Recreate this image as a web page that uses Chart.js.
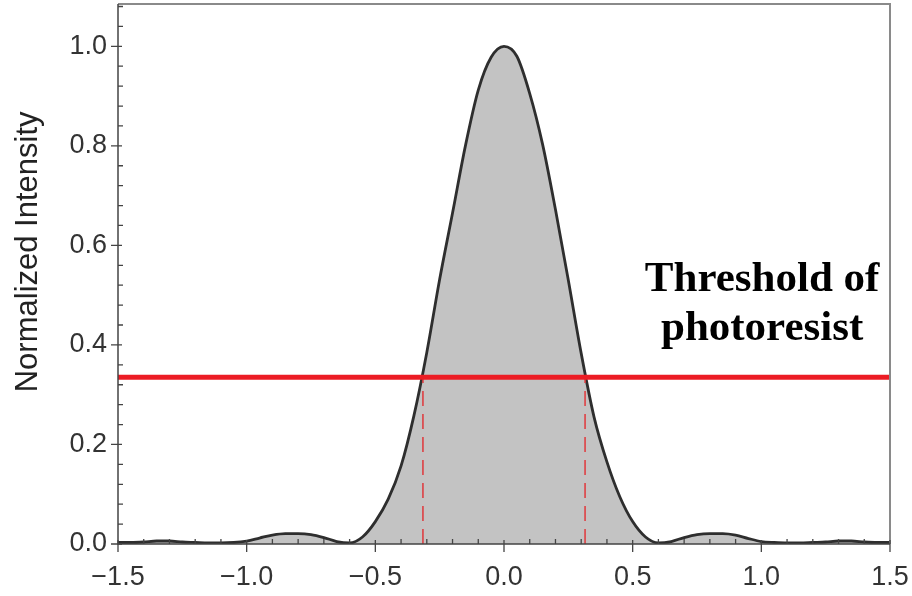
<!DOCTYPE html>
<html>
<head>
<meta charset="utf-8">
<script src="https://cdn.jsdelivr.net/npm/chart.js@4.4.0/dist/chart.umd.min.js"></script>
<style>
  html, body { margin: 0; padding: 0; background: #fff; }
  #wrap { width: 912px; height: 596px; }
</style>
</head>
<body>
<div id="wrap"><canvas id="intensityChart" width="912" height="596"></canvas></div>
<script>
// position (x) and normalized intensity
const xValues = [
    -1.50, -1.45, -1.40, -1.35, -1.30, -1.25, -1.20, -1.15, -1.10, -1.05,
    -1.00, -0.95, -0.90, -0.85, -0.80, -0.75, -0.70, -0.65, -0.60, -0.55,
    -0.50, -0.45, -0.40, -0.35, -0.30, -0.25, -0.20, -0.15, -0.10, -0.05,
    0.00, 0.05, 0.10, 0.15, 0.20, 0.25, 0.30, 0.35, 0.40, 0.45,
    0.50, 0.55, 0.60, 0.65, 0.70, 0.75, 0.80, 0.85, 0.90, 0.95,
    1.00, 1.05, 1.10, 1.15, 1.20, 1.25, 1.30, 1.35, 1.40, 1.45, 1.50
];
const intensity = [
    0.003, 0.003, 0.004, 0.006, 0.006, 0.004, 0.003, 0.002, 0.002, 0.003,
    0.006, 0.012, 0.018, 0.021, 0.021, 0.019, 0.013, 0.005, 0.002, 0.014,
    0.045, 0.090, 0.157, 0.258, 0.385, 0.532, 0.665, 0.800, 0.912, 0.978,
    1.000, 0.980, 0.905, 0.803, 0.672, 0.530, 0.383, 0.255, 0.165, 0.095,
    0.045, 0.014, 0.002, 0.005, 0.013, 0.019, 0.021, 0.021, 0.018, 0.011,
    0.005, 0.003, 0.002, 0.002, 0.003, 0.004, 0.006, 0.006, 0.004, 0.003, 0.003
];
const threshold = 0.335;
const crossings = [-0.315, 0.315];

const xTickLabels = [-1.5, -1.0, -0.5, 0.0, 0.5, 1.0, 1.5];
const yTickLabels = [0.0, 0.2, 0.4, 0.6, 0.8, 1.0];
const yTitle = 'Normalized Intensity';
const labelLines = ['Threshold of', 'photoresist'];

const fmt = v => v.toFixed(1).replace('-', '\u2212');
const sansFont = '"Liberation Sans", Arial, sans-serif';

// no extra room for edge labels: the plot box is fixed
function fixBox(s, key, size) {
    s[key] = size;
    s.paddingLeft = 0; s.paddingRight = 0; s.paddingTop = 0; s.paddingBottom = 0;
}

// frame + inward minor ticks / outward major ticks + texts
const framePlugin = {
    id: 'frame',
    afterDatasetsDraw(chart) {
        const ctx = chart.ctx;
        const a = chart.chartArea;
        const xs = chart.scales.x, ys = chart.scales.y;
        ctx.save();
        ctx.strokeStyle = '#8a8a8a';
        ctx.lineWidth = 2;
        ctx.beginPath();
        ctx.moveTo(a.left, a.top); ctx.lineTo(a.right, a.top); ctx.lineTo(a.right, a.bottom);
        ctx.stroke();
        ctx.strokeStyle = '#444';
        ctx.lineWidth = 1.5;
        ctx.beginPath();
        ctx.moveTo(a.left, a.top); ctx.lineTo(a.left, a.bottom); ctx.lineTo(a.right, a.bottom);
        ctx.stroke();

        ctx.lineWidth = 1.3;
        ctx.beginPath();
        for (let i = -15; i <= 15; i++) {
            const px = xs.getPixelForValue(i / 10);
            if (i % 5 === 0) {
                ctx.moveTo(px, a.bottom - 4); ctx.lineTo(px, a.bottom + 8);
            } else {
                ctx.moveTo(px, a.bottom); ctx.lineTo(px, a.bottom - 5);
            }
        }
        for (let j = 0; j <= 27; j++) {
            const py = ys.getPixelForValue(j * 0.04);
            if (py < a.top) continue;
            if (j % 5 === 0) {
                ctx.moveTo(a.left - 7, py); ctx.lineTo(a.left + 4, py);
            } else {
                ctx.moveTo(a.left, py); ctx.lineTo(a.left + 5, py);
            }
        }
        ctx.stroke();

        // y axis title
        ctx.save();
        ctx.translate(28, ys.getPixelForValue(0.587));
        ctx.rotate(-Math.PI / 2);
        ctx.fillStyle = '#222';
        ctx.font = '31px ' + sansFont;
        ctx.textAlign = 'center';
        ctx.textBaseline = 'middle';
        ctx.fillText(yTitle, 0, 0);
        ctx.restore();

        // threshold annotation
        ctx.fillStyle = '#000';
        ctx.font = 'bold 43px "Liberation Serif", serif';
        ctx.textAlign = 'center';
        ctx.textBaseline = 'alphabetic';
        const cx = xs.getPixelForValue(1.003);
        ctx.fillText(labelLines[0], cx, ys.getPixelForValue(0.508));
        ctx.fillText(labelLines[1], cx, ys.getPixelForValue(0.41));
        ctx.restore();
    }
};

const ctx = document.getElementById('intensityChart').getContext('2d');
const chart = new Chart(ctx, {
    type: 'line',
    data: {
        datasets: [
            {
                // red threshold line
                data: [{ x: xValues[0], y: threshold }, { x: xValues[xValues.length - 1], y: threshold }],
                borderColor: '#ec1c24',
                borderWidth: 5,
                pointRadius: 0,
                fill: false
            },
            ...crossings.map(c => ({
                data: [{ x: c, y: 0 }, { x: c, y: threshold }],
                borderColor: '#e0383c',
                borderWidth: 1.5,
                borderDash: [15, 8],
                pointRadius: 0,
                fill: false
            })),
            {
                data: xValues.map((x, i) => ({ x: x, y: intensity[i] })),
                borderColor: '#2e2e2e',
                borderWidth: 2.8,
                backgroundColor: '#c3c3c3',
                fill: 'origin',
                pointRadius: 0,
                cubicInterpolationMode: 'monotone'
            }
        ]
    },
    options: {
        responsive: false,
        animation: false,
        layout: { padding: { top: 4, right: 22, left: 0, bottom: 0 } },
        plugins: { legend: { display: false }, tooltip: { enabled: false } },
        scales: {
            x: {
                type: 'linear',
                min: -1.5,
                max: 1.5,
                grid: { display: false, drawTicks: false },
                border: { display: false },
                afterBuildTicks: s => { s.ticks = xTickLabels.map(v => ({ value: v })); },
                afterFit: s => fixBox(s, 'height', 52),
                ticks: {
                    padding: 17,
                    color: '#333',
                    font: { family: sansFont, size: 27 },
                    callback: v => fmt(v),
                    maxRotation: 0
                }
            },
            y: {
                min: 0,
                max: 1.085,
                grid: { display: false, drawTicks: false },
                border: { display: false },
                afterBuildTicks: s => { s.ticks = yTickLabels.map(v => ({ value: v })); },
                afterFit: s => fixBox(s, 'width', 118),
                ticks: {
                    padding: 11,
                    color: '#333',
                    font: { family: sansFont, size: 27 },
                    callback: v => fmt(v)
                }
            }
        }
    },
    plugins: [framePlugin]
});
</script>
</body>
</html>
